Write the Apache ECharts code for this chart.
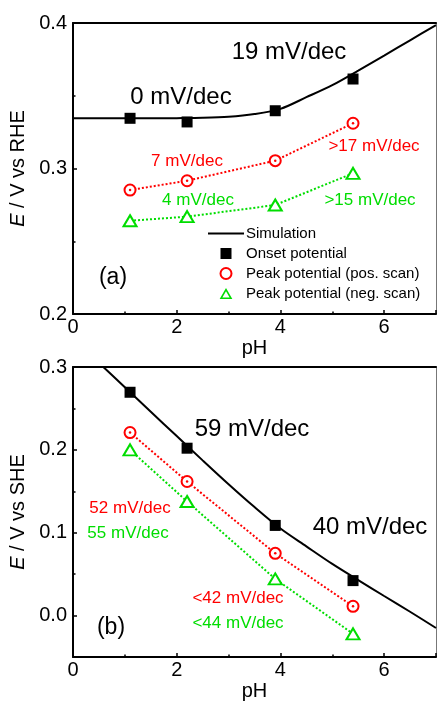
<!DOCTYPE html>
<html>
<head>
<meta charset="utf-8">
<script src="https://cdn.jsdelivr.net/npm/echarts@6/dist/echarts.min.js"></script>
<style>
  html, body { margin: 0; padding: 0; background: #fff; }
  #chart { width: 437px; height: 702px; }
</style>
</head>
<body>
<div id="chart"></div>
<script>
// pH values of the measured points
const phPoints = [1.1, 2.2, 3.9, 5.4];

// Panel (a): potentials vs RHE
const onsetRHE   = [0.3345, 0.3320, 0.3397, 0.3615];
const peakPosRHE = [0.2852, 0.2916, 0.3054, 0.3311];
const peakNegRHE = [0.2641, 0.2669, 0.2749, 0.2967];

// Panel (b): potentials vs SHE
const onsetSHE   = [0.2695, 0.2020, 0.1088, 0.0422];
const peakPosSHE = [0.2209, 0.1618, 0.0751, 0.0112];
const peakNegSHE = [0.2000, 0.1377, 0.0442, -0.0220];

// Simulated curves
const simPH  = [0, 0.5, 1, 1.5, 2, 2.5, 3, 3.5, 4, 4.5, 5, 5.5, 6, 6.5, 7];
const simRHE = [0.3345, 0.3345, 0.3345, 0.3345, 0.3346, 0.3348, 0.3355, 0.3374,
                0.3410, 0.3490, 0.3573, 0.3673, 0.3776, 0.3881, 0.3986];
const simSHE = [0.3345, 0.3050, 0.2755, 0.2460, 0.2166, 0.1873, 0.1585, 0.1309,
                0.1050, 0.0835, 0.0623, 0.0428, 0.0236, 0.0046, -0.0150];

// Tick values
const xTicks = [0, 2, 4, 6];
const yTicksSHE = [0.0, 0.1, 0.2, 0.3];
const yMinorSHE = [0.05, 0.15, 0.25];

// Legend entries
const legendNames = ['Simulation', 'Onset potential', 'Peak potential (pos. scan)', 'Peak potential (neg. scan)'];

const FONT = "'Liberation Sans', Arial, sans-serif";
const RED = '#ff0000';
const GREEN = '#00dd00';

// legend glyphs: a thin bar for the line, a square, and a hollow triangle
const ICON_LINE = 'path://M0,0 H36 V1.8 H0 Z';
const ICON_SQUARE = 'path://M0,0 H10 V10 H0 Z';
const ICON_TRIANGLE = 'path://M6,0 L12,10.4 L0,10.4 Z M6,3.0 L2.6,8.9 L9.4,8.9 Z';

const pairs = (xs, ys) => xs.map((x, i) => [x, ys[i]]);

function bottomX(gridIndex) {
  return {
    type: 'value', gridIndex, position: 'bottom', min: 0, max: 7, interval: 2,
    name: 'pH', nameLocation: 'middle', nameGap: 24,
    nameTextStyle: { fontSize: 20, fontFamily: FONT, color: '#000' },
    axisLine: { show: true, onZero: false, lineStyle: { color: '#000', width: 2 } },
    axisTick: { show: true, inside: true, length: 4, lineStyle: { color: '#000', width: 1.5 } },
    minorTick: { show: true, splitNumber: 2, length: 2.5, lineStyle: { color: '#000', width: 1.5 } },
    axisLabel: { fontSize: 20, fontFamily: FONT, color: '#000', margin: 3, showMaxLabel: false,
      formatter: v => (xTicks.indexOf(v) >= 0 ? String(v) : '') },
    splitLine: { show: false }
  };
}
function topX(gridIndex) {
  return {
    type: 'value', gridIndex, position: 'top', min: 0, max: 7,
    axisLine: { show: true, onZero: false, lineStyle: { color: '#000', width: 2 } },
    axisTick: { show: false }, axisLabel: { show: false }, splitLine: { show: false }
  };
}
function rightY(gridIndex, min, max) {
  return {
    type: 'value', gridIndex, position: 'right', min, max,
    axisLine: { show: true, onZero: false, lineStyle: { color: '#777', width: 1 } },
    axisTick: { show: false }, axisLabel: { show: false }, splitLine: { show: false }
  };
}
function yName(ref) {
  return {
    name: '{i|E} / V vs ' + ref, nameLocation: 'middle', nameRotate: 90, nameGap: 44,
    nameTextStyle: { fontSize: 20, fontFamily: FONT, color: '#000',
      rich: { i: { fontStyle: 'italic', fontSize: 20, fontFamily: FONT, color: '#000' } } }
  };
}

const yLabelStyle = { fontSize: 20, fontFamily: FONT, color: '#000', margin: 6, formatter: v => v.toFixed(1) };

function squares(name, xi, yi, ys) {
  return { name, type: 'scatter', xAxisIndex: xi, yAxisIndex: yi, data: pairs(phPoints, ys),
    symbol: 'rect', symbolSize: 11, itemStyle: { color: '#000', opacity: 1 }, z: 3 };
}
function circles(name, xi, yi, ys) {
  return { name, type: 'scatter', xAxisIndex: xi, yAxisIndex: yi, data: pairs(phPoints, ys),
    symbol: 'emptyCircle', symbolSize: 11, itemStyle: { color: RED, borderColor: RED, borderWidth: 1.5, opacity: 1 }, z: 3 };
}
function centreDots(name, xi, yi, ys) {
  return { name, type: 'scatter', xAxisIndex: xi, yAxisIndex: yi, data: pairs(phPoints, ys),
    symbol: 'circle', symbolSize: 2.5, itemStyle: { color: RED, opacity: 1 }, z: 4, silent: true };
}
function triangles(name, xi, yi, ys) {
  return { name, type: 'scatter', xAxisIndex: xi, yAxisIndex: yi, data: pairs(phPoints, ys),
    symbol: 'emptyTriangle', symbolSize: [13, 11], itemStyle: { color: GREEN, borderColor: GREEN, borderWidth: 1.5, opacity: 1 }, z: 3 };
}
function dotted(name, xi, yi, ys, color) {
  return { name, type: 'line', xAxisIndex: xi, yAxisIndex: yi, data: pairs(phPoints, ys),
    symbol: 'none', lineStyle: { color, width: 2, type: 'dotted' }, z: 2 };
}
function simulation(name, xi, yi, ys) {
  return { name, type: 'line', xAxisIndex: xi, yAxisIndex: yi, data: pairs(simPH, ys),
    symbol: 'none', smooth: 0.3, clip: true, lineStyle: { color: '#000', width: 2 }, itemStyle: { color: '#000' }, z: 2 };
}

function note(x, y, text, size, color) {
  return { type: 'text', x, y, style: { text, font: size + 'px ' + FONT, fill: color, align: 'center', verticalAlign: 'middle' } };
}

const option = {
  animation: false,
  backgroundColor: '#fff',
  grid: [
    { left: 73, top: 23, width: 363, height: 291 },
    { left: 73, top: 367, width: 363, height: 291 }
  ],
  xAxis: [bottomX(0), topX(0), bottomX(1), topX(1)],
  yAxis: [
    Object.assign({
      type: 'value', gridIndex: 0, position: 'left', min: 0.2, max: 0.4, interval: 0.1,
      axisLine: { show: true, onZero: false, lineStyle: { color: '#000', width: 2 } },
      axisTick: { show: true, inside: true, length: 4, lineStyle: { color: '#000', width: 1.5 } },
      minorTick: { show: true, splitNumber: 2, length: 2.5, lineStyle: { color: '#000', width: 1.5 } },
      axisLabel: yLabelStyle, splitLine: { show: false }
    }, yName('RHE')),
    rightY(0, 0.2, 0.4),
    Object.assign({
      type: 'value', gridIndex: 1, position: 'left', min: -0.05, max: 0.3,
      axisLine: { show: true, onZero: false, lineStyle: { color: '#000', width: 2 } },
      axisTick: { show: true, inside: true, length: 4, customValues: yTicksSHE, lineStyle: { color: '#000', width: 1.5 } },
      axisLabel: Object.assign({ customValues: yTicksSHE }, yLabelStyle), splitLine: { show: false }
    }, yName('SHE')),
    rightY(1, -0.05, 0.3),
    {
      // minor ticks of panel (b)
      type: 'value', gridIndex: 1, position: 'left', min: -0.05, max: 0.3,
      axisLine: { show: false },
      axisTick: { show: true, inside: true, length: 2.5, customValues: yMinorSHE, lineStyle: { color: '#000', width: 1.5 } },
      axisLabel: { show: false }, splitLine: { show: false }
    }
  ],
  legend: {
    orient: 'vertical', left: 208, top: 226, padding: 0,
    itemWidth: 36, itemHeight: 11, itemGap: 5,
    textStyle: { fontSize: 15, fontFamily: FONT, color: '#000', lineHeight: 15, padding: [0, 0, 0, -3] },
    data: [
      { name: legendNames[0], icon: ICON_LINE },
      { name: legendNames[1], icon: ICON_SQUARE },
      { name: legendNames[2] },
      { name: legendNames[3], icon: ICON_TRIANGLE, itemStyle: { borderWidth: 0, borderColor: 'transparent' } }
    ]
  },
  series: [
    // panel (a)
    simulation(legendNames[0], 0, 0, simRHE),
    dotted('pos-a', 0, 0, peakPosRHE, RED),
    dotted('neg-a', 0, 0, peakNegRHE, GREEN),
    squares(legendNames[1], 0, 0, onsetRHE),
    circles(legendNames[2], 0, 0, peakPosRHE),
    centreDots('pos-a-dot', 0, 0, peakPosRHE),
    triangles(legendNames[3], 0, 0, peakNegRHE),
    // panel (b)
    simulation('sim-b', 2, 2, simSHE),
    dotted('pos-b', 2, 2, peakPosSHE, RED),
    dotted('neg-b', 2, 2, peakNegSHE, GREEN),
    squares('onset-b', 2, 2, onsetSHE),
    circles('pos-b-mk', 2, 2, peakPosSHE),
    centreDots('pos-b-dot', 2, 2, peakPosSHE),
    triangles('neg-b-mk', 2, 2, peakNegSHE)
  ],
  graphic: [
    // slope annotations, panel (a)
    note(289, 52, '19 mV/dec', 24, '#000'),
    note(181, 97, '0 mV/dec', 24, '#000'),
    note(187, 161, '7 mV/dec', 17, RED),
    note(374, 146, '>17 mV/dec', 17, RED),
    note(198, 200, '4 mV/dec', 17, GREEN),
    note(370, 200, '>15 mV/dec', 17, GREEN),
    note(113, 278, '(a)', 23, '#000'),
    // slope annotations, panel (b)
    note(252, 429, '59 mV/dec', 24, '#000'),
    note(370, 527, '40 mV/dec', 24, '#000'),
    note(130, 508, '52 mV/dec', 17, RED),
    note(128, 533, '55 mV/dec', 17, GREEN),
    note(238, 598, '<42 mV/dec', 17, RED),
    note(238, 623, '<44 mV/dec', 17, GREEN),
    note(111, 628, '(b)', 23, '#000')
  ]
};

const chart = echarts.init(document.getElementById('chart'), null, { renderer: 'canvas' });
chart.setOption(option);
</script>
</body>
</html>
